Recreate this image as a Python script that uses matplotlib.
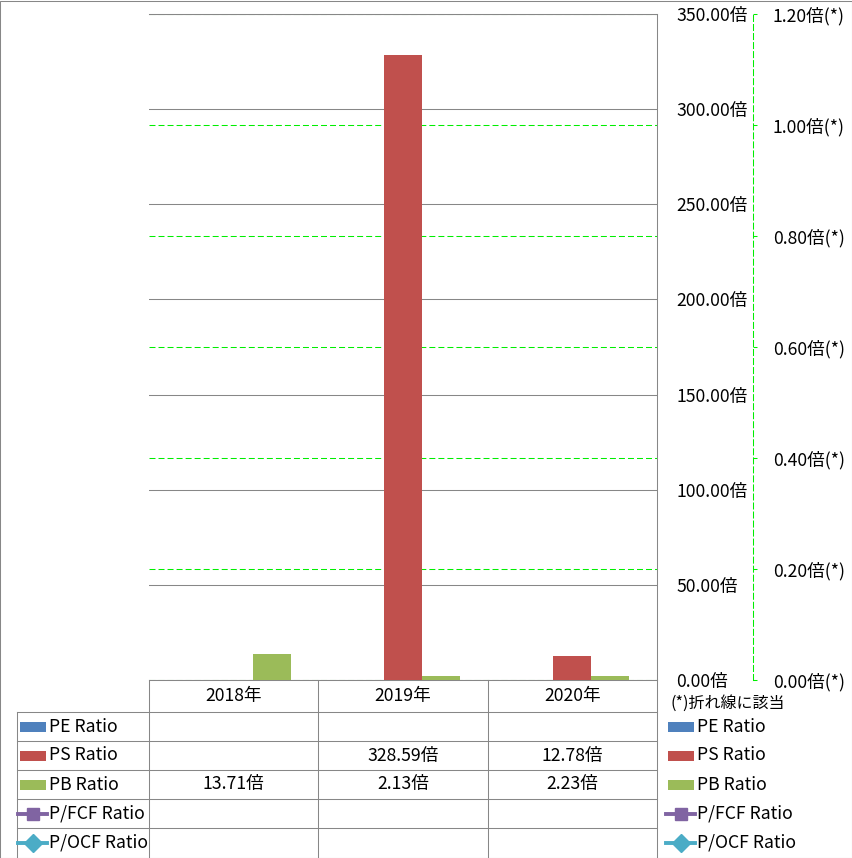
import numpy as np
import matplotlib
matplotlib.use('Agg')
import matplotlib.pyplot as plt
from matplotlib.patches import Rectangle
from matplotlib.lines import Line2D

plt.rcParams['font.family'] = ['Noto Sans CJK JP', 'DejaVu Sans']
plt.rcParams['lines.scale_dashes'] = False

# ---------------- data ----------------
years = ['2018年', '2019年', '2020年']
pe_ratio = [np.nan, np.nan, np.nan]
ps_ratio = [np.nan, 328.59, 12.78]
pb_ratio = [13.71, 2.13, 2.23]
pfcf_ratio = [np.nan, np.nan, np.nan]
pocf_ratio = [np.nan, np.nan, np.nan]
series_names = ['PE Ratio', 'PS Ratio', 'PB Ratio', 'P/FCF Ratio', 'P/OCF Ratio']
primary_ticks = [0, 50, 100, 150, 200, 250, 300, 350]
secondary_ticks = [0.0, 0.2, 0.4, 0.6, 0.8, 1.0, 1.2]
note_text = '(*)折れ線に該当'

# ---------------- style ----------------
C_PE = '#4F81BD'
C_PS = '#C0504D'
C_PB = '#9BBB59'
C_FCF = '#8064A2'
C_OCF = '#4BACC6'
GRID = '#878787'
GREEN = '#00EE00'
FS = 12.7

W, H = 853, 858
fig = plt.figure(figsize=(W / 100, H / 100), dpi=100)


def fx(x):
    return x / W


def fy(y):
    return 1 - y / H


L, R, T, B = 149, 657, 14, 680
ax = fig.add_axes([fx(L), fy(B), (R - L) / W, (B - T) / H])
ax2 = ax.twinx()
ax.set_zorder(2)
ax.patch.set_visible(False)
ax2.set_zorder(1)

x = np.arange(len(years))
bw = 0.225
ax.bar(x - bw, pe_ratio, bw, color=C_PE, zorder=3)
ax.bar(x, ps_ratio, bw, color=C_PS, zorder=3)
ax.bar(x + bw, pb_ratio, bw, color=C_PB, zorder=3)
ax.set_xlim(-0.5, len(years) - 0.5)
ax.set_ylim(primary_ticks[0], primary_ticks[-1])
ax.set_xticks([])
ax.set_yticks(primary_ticks)
ax.set_yticklabels([f'{t:.2f}倍' for t in primary_ticks])
ax.yaxis.tick_right()
ax.tick_params(axis='y', length=0, pad=13.7, labelsize=FS, labelcolor='black')
ax.grid(axis='y', color=GRID, lw=0.75)
ax.set_axisbelow(True)
ax.spines['left'].set_visible(False)
for s in ['top', 'right', 'bottom']:
    ax.spines[s].set_color(GRID)
    ax.spines[s].set_linewidth(0.75)

ax2.plot(x, pfcf_ratio, color=C_FCF, marker='s', lw=2.5)
ax2.plot(x, pocf_ratio, color=C_OCF, marker='D', lw=2.5)
ax2.set_ylim(secondary_ticks[0], secondary_ticks[-1])
ax2.set_yticks(secondary_ticks)
ax2.set_yticklabels([f'{t:.2f}倍(*)' for t in secondary_ticks])
ax2.spines['right'].set_position(('axes', (753 - L) / (R - L)))
ax2.spines['right'].set_color(GREEN)
ax2.spines['right'].set_linewidth(0.75)
ax2.spines['right'].set_linestyle((0, (4.3, 2.2)))
for s in ['top', 'left', 'bottom']:
    ax2.spines[s].set_visible(False)
ax2.tick_params(axis='y', length=2.9, width=0.75, color=GREEN, pad=11.5,
                labelsize=FS, labelcolor='black')
ax2.grid(axis='y', color=GREEN, lw=0.75, ls=(0, (4.3, 2.2)))

# ---------------- data table ----------------
def hline(y, x0, x1):
    fig.add_artist(Line2D([fx(x0), fx(x1)], [fy(y), fy(y)], transform=fig.transFigure,
                          color=GRID, lw=0.75))


def vline(xp, y0, y1):
    fig.add_artist(Line2D([fx(xp), fx(xp)], [fy(y0), fy(y1)], transform=fig.transFigure,
                          color=GRID, lw=0.75))


col_w = (R - L) / len(years)
col_edges = [L + i * col_w for i in range(len(years) + 1)]
row_tops = [712, 741, 770, 799, 828, 857]
for xe in col_edges:
    vline(xe, B, 857)
vline(17, 712, 857)
for yr in row_tops[:-1]:
    hline(yr, 17, R)

for i, yl in enumerate(years):
    fig.text(fx(L + (i + 0.5) * col_w), fy(696), yl, ha='center', va='center',
             fontsize=FS, color='black')

series_vals = [pe_ratio, ps_ratio, pb_ratio, pfcf_ratio, pocf_ratio]
series_cols = [C_PE, C_PS, C_PB, C_FCF, C_OCF]
series_kind = ['bar', 'bar', 'bar', 's', 'D']


def legend_key(x0, yc, kind, col):
    if kind == 'bar':
        fig.add_artist(Rectangle((fx(x0), fy(yc + 5)), 26 / W, 10 / H,
                                 transform=fig.transFigure, color=col, lw=0))
    else:
        fig.add_artist(Line2D([fx(x0 - 2), fx(x0 + 27)], [fy(yc), fy(yc)],
                              transform=fig.transFigure, color=col, lw=2.8))
        ms = 8.5 if kind == 's' else 9.5
        fig.add_artist(Line2D([fx(x0 + 13)], [fy(yc)], transform=fig.transFigure,
                              color=col, marker=kind, ms=ms, lw=0, mec=col))


for r, (name, vals, col, kind) in enumerate(zip(series_names, series_vals, series_cols, series_kind)):
    yc = (row_tops[r] + row_tops[r + 1]) / 2
    legend_key(20, yc, kind, col)
    fig.text(fx(49), fy(yc), name, ha='left', va='center', fontsize=FS, color='black')
    for i, v in enumerate(vals):
        if not np.isnan(v):
            fig.text(fx(L + (i + 0.5) * col_w), fy(yc), f'{v:.2f}倍', ha='center',
                     va='center', fontsize=FS, color='black')
    # right-side legend
    legend_key(668, yc, kind, col)
    fig.text(fx(697), fy(yc), name, ha='left', va='center', fontsize=FS, color='black')

fig.text(fx(671), fy(703), note_text, ha='left', va='center', fontsize=11.5, color='black')

# outer border
fig.add_artist(Rectangle((fx(0.5), fy(857.5)), 852 / W, 857 / H, transform=fig.transFigure,
                         fill=False, ec=GRID, lw=0.75))

fig.savefig('out.png', dpi=100)
